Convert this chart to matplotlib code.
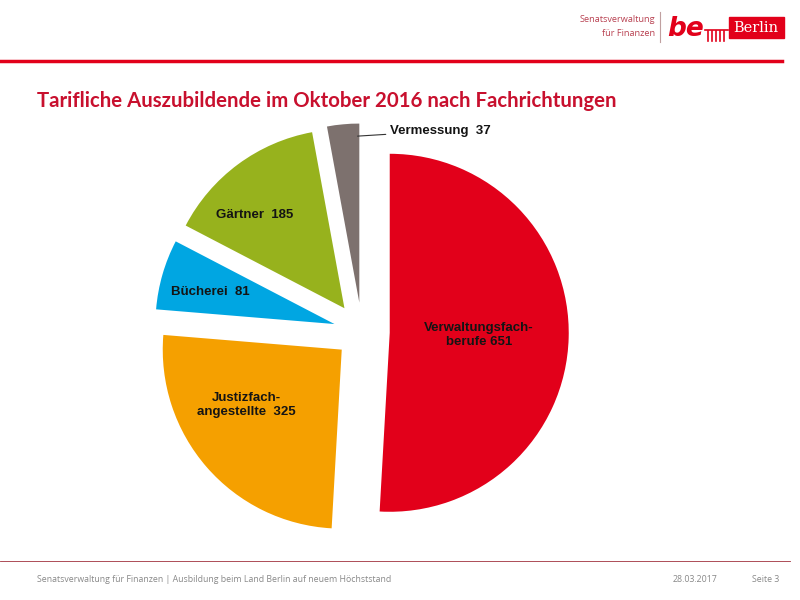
import numpy as np
import matplotlib
matplotlib.use("Agg")
import matplotlib.pyplot as plt
from matplotlib.patches import Rectangle
from matplotlib.lines import Line2D

# data
labels = ["Verwaltungsfach-\nberufe 651", "Justizfach-\nangestellte  325", "Bücherei  81",
          "Gärtner  185", "Vermessung  37"]
values = [651, 325, 81, 185, 37]
colors = ["#E2001A", "#F5A000", "#00A6E2", "#97B21D", "#7D716E"]
explode = [0.155, 0.15, 0.16, 0.165, 0.165]
# label positions in pie units (radius = 1)
label_pos = [(0.654, -0.017), (-0.648, -0.408), (-0.849, 0.223), (-0.598, 0.654)]

fig = plt.figure(figsize=(8, 6), dpi=100)
fig.patch.set_facecolor("white")

# pie centre at (362, 332) px, radius 179 px
R = 179.0
cx, cy = 362, 332
half = 250
ax = fig.add_axes([(cx - half) / 800, (600 - cy - half) / 600, 2 * half / 800, 2 * half / 600])
lim = half / R

wedges, _ = ax.pie(values, colors=colors, explode=explode, startangle=90,
                   counterclock=False, radius=1.0, wedgeprops=dict(linewidth=0))
ax.set_xlim(-lim, lim)
ax.set_ylim(-lim, lim)
ax.set_aspect("equal")
ax.axis("off")

for (x, y), lab in zip(label_pos, labels[:4]):
    ax.text(x, y, lab, ha="center", va="center", fontsize=9.5, fontweight="bold",
            family="Liberation Sans", linespacing=1.2, color="#141414")

# Vermessung label with leader line (starts near the right edge of the grey slice)
g = wedges[4]
ang = np.deg2rad(min(g.theta1, g.theta2) + 0.6)
gx = g.center[0] + 0.93 * g.r * np.cos(ang)
gy = g.center[1] + 0.93 * g.r * np.sin(ang)
ax.annotate(labels[4], xy=(gx, gy), xytext=(0.156, 1.123), ha="left", va="center",
            fontsize=9.5, fontweight="bold", family="Liberation Sans", color="#141414",
            arrowprops=dict(arrowstyle="-", color="#333333", lw=0.8,
                            shrinkA=1, shrinkB=0))

# title
fig.text(37 / 800, 1 - 101 / 600, "Tarifliche Auszubildende im Oktober 2016 nach Fachrichtungen",
         ha="left", va="center", fontsize=14.65, fontweight="bold", family="Lato", color="#C8102E")

# header line and footer line
fig.add_artist(Line2D([0, 782 / 800], [1 - 61 / 600] * 2, color="#E2001A", lw=2.5))
fig.add_artist(Line2D([0, 790 / 800], [1 - 561 / 600] * 2, color="#A0303C", lw=0.6))

# logo
fig.text(655 / 800, 1 - 20 / 600, "Senatsverwaltung", ha="right", va="center",
         fontsize=6.6, family="Open Sans", color="#B84050")
fig.text(655 / 800, 1 - 33 / 600, "für Finanzen", ha="right", va="center",
         fontsize=6.6, family="Open Sans", color="#B84050")
fig.add_artist(Line2D([660 / 800] * 2, [1 - 12 / 600, 1 - 42 / 600], color="#C0A0A0", lw=0.8))
fig.text(667 / 800, 1 - 29 / 600, "be", ha="left", va="center", fontsize=19,
         fontweight="bold", style="italic", family="DejaVu Sans", color="#E2001A")
# little gate symbol
for i in range(5):
    fig.add_artist(Line2D([(708 + i * 4) / 800] * 2, [1 - 41 / 600, 1 - 31 / 600],
                          color="#E2001A", lw=1.2))
fig.add_artist(Line2D([705 / 800, 728 / 800], [1 - 30 / 600] * 2, color="#E2001A", lw=1.2))
fig.add_artist(Rectangle((729 / 800, 1 - 38 / 600), 55 / 800, 21 / 600,
                         transform=fig.transFigure, color="#E2001A"))
fig.text(756 / 800, 1 - 27.5 / 600, "Berlin", ha="center", va="center", fontsize=10.5,
         family="DejaVu Serif", color="white")

# footer
fig.text(37 / 800, 1 - 580 / 600,
         "Senatsverwaltung für Finanzen | Ausbildung beim Land Berlin auf neuem Höchststand",
         ha="left", va="center", fontsize=6.3, family="Open Sans", color="#888888")
fig.text(673 / 800, 1 - 580 / 600, "28.03.2017", ha="left", va="center",
         fontsize=6.3, family="Open Sans", color="#888888")
fig.text(752 / 800, 1 - 580 / 600, "Seite 3", ha="left", va="center",
         fontsize=6.3, family="Open Sans", color="#888888")

fig.savefig("out.png", dpi=100)
